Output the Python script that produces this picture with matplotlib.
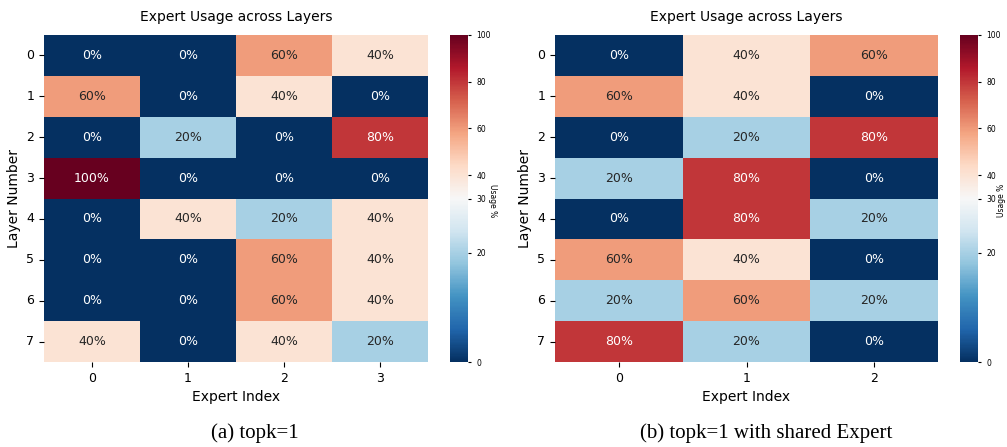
import matplotlib
matplotlib.use("Agg")
import matplotlib.pyplot as plt
import numpy as np
import seaborn as sns
from matplotlib.colors import TwoSlopeNorm

# usage % per layer (rows) and expert (columns)
usage_topk1 = [
    [0, 0, 60, 40],
    [60, 0, 40, 0],
    [0, 20, 0, 80],
    [100, 0, 0, 0],
    [0, 40, 20, 40],
    [0, 0, 60, 40],
    [0, 0, 60, 40],
    [40, 0, 40, 20],
]
usage_shared = [
    [0, 40, 60],
    [60, 40, 0],
    [0, 20, 80],
    [20, 80, 0],
    [0, 80, 20],
    [60, 40, 0],
    [20, 60, 20],
    [80, 20, 0],
]
captions = ["(a) topk=1", "(b) topk=1 with shared Expert"]
cbar_ticks = [0, 20, 30, 40, 60, 80, 100]

plt.rcParams['font.family'] = ['DejaVu Sans']

W, H = 1007, 447
fig = plt.figure(figsize=(W / 100, H / 100), dpi=100)


def draw(data, ax_box, cax_box, label_rot, label_x, caption, cap_x):
    ax = fig.add_axes([ax_box[0] / W, 1 - ax_box[3] / H, (ax_box[2] - ax_box[0]) / W, (ax_box[3] - ax_box[1]) / H])
    cax = fig.add_axes([cax_box[0] / W, 1 - cax_box[3] / H, (cax_box[2] - cax_box[0]) / W, (cax_box[3] - cax_box[1]) / H])
    arr = np.array(data, dtype=float)
    labels = np.array([["%d%%" % v for v in row] for row in data])
    norm = TwoSlopeNorm(vmin=0, vcenter=30, vmax=100)
    sns.heatmap(arr, ax=ax, cbar_ax=cax, cmap="RdBu_r", norm=norm,
                annot=labels, fmt="", annot_kws={"fontsize": 9})
    ax.set_title("Expert Usage across Layers", fontsize=10, pad=10)
    ax.set_xlabel("Expert Index", fontsize=10)
    ax.set_ylabel("Layer Number", fontsize=10)
    ax.tick_params(labelsize=9)
    ax.set_yticklabels([str(i) for i in range(arr.shape[0])], rotation=0)
    cax.set_yticks(cbar_ticks)
    cax.set_yticklabels([str(t) for t in cbar_ticks])
    cax.tick_params(labelsize=5.5, length=2.5)
    cax.text(label_x, 0.495, "Usage %", transform=cax.transAxes, fontsize=5.5,
             rotation=label_rot, ha="center", va="center")
    fig.text(cap_x / W, 1 - 433 / H, caption, ha="center", va="center",
             fontsize=15, family="Liberation Serif")


draw(usage_topk1, (44, 35, 428, 362), (450, 35, 468, 362), 270, 2.37, captions[0], 255)
draw(usage_shared, (555, 35, 938, 362), (960, 35, 978, 362), 90, 2.32, captions[1], 766)

fig.savefig("out.png", dpi=100)
